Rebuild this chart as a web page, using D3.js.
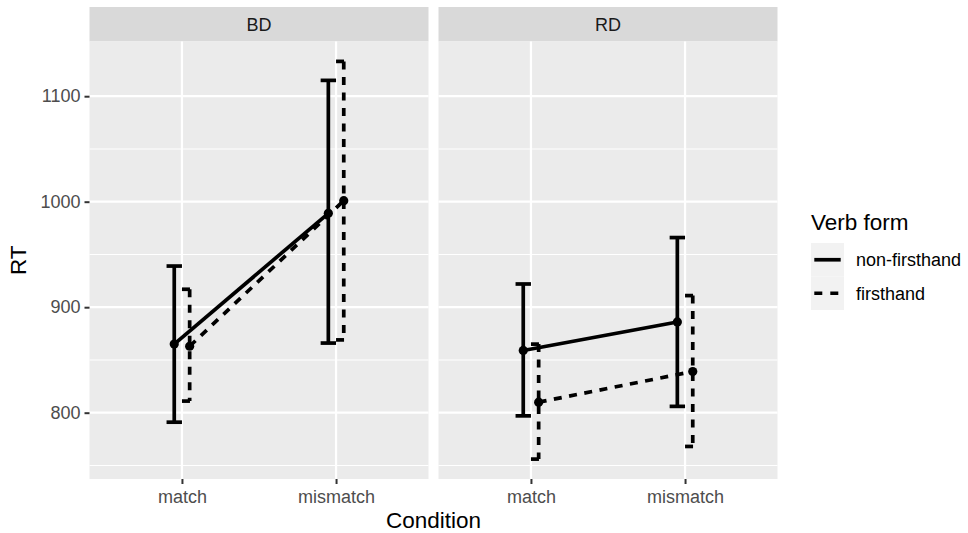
<!DOCTYPE html>
<html><head><meta charset="utf-8">
<script src="https://cdn.jsdelivr.net/npm/d3@7"></script>
<style>body{margin:0;background:#fff} text{font-family:"Liberation Sans",Arial,sans-serif}</style>
</head><body><svg id="c" width="968" height="533"></svg>
<script>
// ---- data ----
const facets = ["BD", "RD"];
const conditions = ["match", "mismatch"];
const verbForms = ["non-firsthand", "firsthand"];
const yTicks = [800, 900, 1000, 1100];
const yMinorTicks = [750, 850, 950, 1050];

const meanBD_nonfirsthand  = [865, 989];
const lowerBD_nonfirsthand = [791, 866];
const upperBD_nonfirsthand = [939, 1115];
const meanBD_firsthand     = [863, 1001];
const lowerBD_firsthand    = [811, 869];
const upperBD_firsthand    = [917, 1133];

const meanRD_nonfirsthand  = [859, 886];
const lowerRD_nonfirsthand = [797, 806];
const upperRD_nonfirsthand = [922, 966];
const meanRD_firsthand     = [810, 839];
const lowerRD_firsthand    = [756, 768];
const upperRD_firsthand    = [865, 911];

const table = {
  BD: {"non-firsthand": [meanBD_nonfirsthand, lowerBD_nonfirsthand, upperBD_nonfirsthand],
       "firsthand": [meanBD_firsthand, lowerBD_firsthand, upperBD_firsthand]},
  RD: {"non-firsthand": [meanRD_nonfirsthand, lowerRD_nonfirsthand, upperRD_nonfirsthand],
       "firsthand": [meanRD_firsthand, lowerRD_firsthand, upperRD_firsthand]}
};
const records = [];
facets.forEach(f => verbForms.forEach((v, vi) => conditions.forEach((c, ci) => {
  const t = table[f][v];
  records.push({facet: f, form: v, formIndex: vi, cond: c, mean: t[0][ci], lo: t[1][ci], hi: t[2][ci]});
})));

// ---- layout ----
const svg = d3.select("#c");
const panelTop = 41.5, panelBottom = 479;
const panelX = {BD: [89.5, 428.5], RD: [438.5, 777.5]};
const dashPattern = "8,7.5";
const lw = 3.7;
const fontFam = "Liberation Sans, Arial, sans-serif";

const allVals = records.flatMap(d => [d.lo, d.hi]);
const ext = d3.extent(allVals);
const pad = (ext[1] - ext[0]) * 0.05;
const y = d3.scaleLinear().domain([ext[0] - pad, ext[1] + pad]).range([panelBottom, panelTop]);

const dodge = d3.scaleOrdinal().domain(verbForms).range([-0.05, 0.05]);
const capHalf = 0.05;
const dashFor = v => v === "firsthand" ? dashPattern : null;

facets.forEach(f => {
  const [x0, x1] = panelX[f];
  const x = d3.scalePoint().domain(conditions).range([x0, x1]).padding(0.6);
  const step = x.step();
  const xd = (c, v, extra = 0) => x(c) + (dodge(v) + extra) * step;
  const g = svg.append("g");

  // strip
  g.append("rect").attr("x", x0).attr("y", 7).attr("width", x1 - x0).attr("height", panelTop - 7).attr("fill", "#D9D9D9");
  g.append("text").attr("x", (x0 + x1) / 2).attr("y", (7 + panelTop) / 2).attr("dy", "0.35em")
    .attr("text-anchor", "middle").attr("font-size", 18).attr("fill", "#1A1A1A").text(f);

  // panel
  g.append("rect").attr("x", x0).attr("y", panelTop).attr("width", x1 - x0).attr("height", panelBottom - panelTop).attr("fill", "#EBEBEB");
  g.selectAll(".minor").data(yMinorTicks).join("line")
    .attr("x1", x0).attr("x2", x1).attr("y1", d => y(d)).attr("y2", d => y(d))
    .attr("stroke", "#fff").attr("stroke-width", 1.1);
  g.selectAll(".major").data(yTicks).join("line")
    .attr("x1", x0).attr("x2", x1).attr("y1", d => y(d)).attr("y2", d => y(d))
    .attr("stroke", "#fff").attr("stroke-width", 2.2);
  g.selectAll(".vmajor").data(conditions).join("line")
    .attr("x1", d => x(d)).attr("x2", d => x(d)).attr("y1", panelTop).attr("y2", panelBottom)
    .attr("stroke", "#fff").attr("stroke-width", 2.2);

  // x axis
  const xa = g.append("g").attr("transform", `translate(0,${panelBottom})`)
    .call(d3.axisBottom(x).tickSize(5).tickPadding(6));
  xa.select(".domain").remove();
  xa.selectAll(".tick line").attr("stroke", "#333333").attr("stroke-width", 2);
  xa.selectAll(".tick text").attr("font-size", 18).attr("fill", "#4D4D4D").attr("font-family", fontFam);

  // y axis (first panel only)
  if (f === "BD") {
    const ya = g.append("g").attr("transform", `translate(${x0},0)`)
      .call(d3.axisLeft(y).tickValues(yTicks).tickFormat(d3.format("d")).tickSize(5).tickPadding(4));
    ya.select(".domain").remove();
    ya.selectAll(".tick line").attr("stroke", "#333333").attr("stroke-width", 2);
    ya.selectAll(".tick text").attr("font-size", 18).attr("fill", "#4D4D4D").attr("font-family", fontFam);
  }

  const recs = records.filter(d => d.facet === f);
  // lines
  verbForms.forEach(v => {
    const rs = recs.filter(d => d.form === v);
    g.append("path").datum(rs)
      .attr("d", d3.line().x(d => xd(d.cond, d.form)).y(d => y(d.mean)))
      .attr("fill", "none").attr("stroke", "#000").attr("stroke-width", lw)
      .attr("stroke-dasharray", dashFor(v));
  });
  // error bars: top cap, vertical, bottom cap as separate segments
  recs.forEach(d => {
    const segs = [
      [[xd(d.cond, d.form, -capHalf), y(d.hi)], [xd(d.cond, d.form, capHalf), y(d.hi)]],
      [[xd(d.cond, d.form), y(d.hi)], [xd(d.cond, d.form), y(d.lo)]],
      [[xd(d.cond, d.form, -capHalf), y(d.lo)], [xd(d.cond, d.form, capHalf), y(d.lo)]]
    ];
    segs.forEach(s => g.append("path").attr("d", d3.line()(s))
      .attr("fill", "none").attr("stroke", "#000").attr("stroke-width", lw)
      .attr("stroke-dasharray", dashFor(d.form)));
  });
  // points
  g.selectAll(".pt").data(recs).join("circle")
    .attr("cx", d => xd(d.cond, d.form)).attr("cy", d => y(d.mean)).attr("r", 4.6).attr("fill", "#000");
});

// axis titles
svg.append("text").attr("x", (panelX.BD[0] + panelX.RD[1]) / 2).attr("y", 528)
  .attr("text-anchor", "middle").attr("font-size", 22.5).attr("fill", "#000").text("Condition");
svg.append("text").attr("transform", `translate(26,${(panelTop + panelBottom) / 2}) rotate(-90)`)
  .attr("text-anchor", "middle").attr("font-size", 22.5).attr("fill", "#000").text("RT");

// legend
const lg = svg.append("g");
lg.append("text").attr("x", 811).attr("y", 230).attr("font-size", 22.5).attr("fill", "#000").text("Verb form");
const keyH = 33.5, keyW = 33, keyTop = 243;
verbForms.forEach((v, i) => {
  const cy = keyTop + keyH * i + keyH / 2;
  lg.append("rect").attr("x", 811).attr("y", keyTop + keyH * i).attr("width", keyW).attr("height", keyH).attr("fill", "#F2F2F2");
  lg.append("line").attr("x1", 811 + keyW * 0.1).attr("x2", 811 + keyW * 0.9).attr("y1", cy).attr("y2", cy)
    .attr("stroke", "#000").attr("stroke-width", lw).attr("stroke-dasharray", v === "firsthand" ? "8,8" : null);
  lg.append("text").attr("x", 856).attr("y", cy).attr("dy", "0.35em").attr("font-size", 18).attr("fill", "#000").text(v);
});
</script></body></html>
